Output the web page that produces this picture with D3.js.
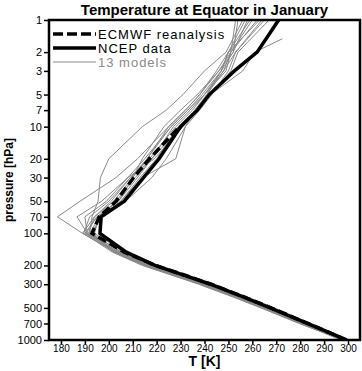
<!DOCTYPE html>
<html>
<head>
<meta charset="utf-8">
<script src="https://cdn.jsdelivr.net/npm/d3@7"></script>
<style>
  body { margin: 0; background: #fff; }
  svg { display: block; }
</style>
</head>
<body>
<script>
// Temperature profile at the equator, January

const levels = [1000, 850, 700, 500, 400, 300, 250, 200, 150, 100, 70, 50, 30, 20, 10, 7, 5, 3, 2, 1.5, 1];

const ncep = [299.5, 292, 283, 267.5, 257, 242.5, 232.3, 219.3, 207.3, 196.3, 196.8, 206.5, 214.5, 221, 230, 237, 242, 252.5, 262, null, 271];

// ECMWF reanalysis stops at 10 hPa
const ecmwf = [299.3, 292, 283.2, 267.8, 257.2, 242.8, 232.5, 219.5, 206.5, 193, 196, 203, 210.4, 217, 229.6, null, null, null, null, null, null];

// 13 models
const models = [
    [298.5, 290.5, 281.5, 265.5, 254.5, 239.5, 229.0, 216.0, 203.5, 189, 178.5, 188, 203, 212, 225, 232, 238, 246, 252, null, 258],
    [297.5, 290.0, 281.0, 265.0, 254.0, 239.0, 228.5, 215.5, 203.0, 191, 186.7, 197, 208, 215, 226, 233, 239, 247, 252, null, 254],
    [299.0, 291.5, 282.5, 266.5, 256.0, 241.0, 230.5, 217.5, 205.5, 192, 193, 195.5, 196.5, 200, 214, 224, 231, 240, 249, null, 256],
    [298.0, 290.0, 280.0, 264.0, 253.0, 238.0, 227.5, 214.5, 202.0, 192.5, 197, 205, 213, 220, 229, 236, 242.5, 256, 261, 272.5, null],
    [297.0, 289.5, 280.5, 264.5, 253.5, 238.5, 228.0, 215.0, 202.5, 190, 195, 204, 212, 218, 227, 234, 240, 249, 251, null, 262],
    [299.0, 291.0, 282.0, 266.0, 255.5, 240.5, 230.0, 217.0, 205.0, 193, 197, 207, 218, 224, 232, 238, 243, 250, 253, null, 265],
    [298.5, 291.0, 281.5, 265.5, 255.0, 240.0, 229.5, 216.5, 204.0, 191.5, 194, 202, 210, 216, 225, 232, 238, 245, 250, null, 257],
    [297.5, 289.5, 279.5, 263.5, 252.5, 237.5, 227.0, 214.0, 201.5, 189.5, 192, 200, 209, 216, 226, 233, 240, 248, 251, null, 260],
    [298.0, 290.5, 281.0, 265.0, 254.5, 239.5, 229.0, 216.0, 203.5, 192, 196, 205, 214, 228, 232, 236, 241, 247, 250, null, 263],
    [299.2, 291.8, 282.8, 267.0, 256.5, 241.5, 231.0, 218.5, 206.5, 194, 196, 203, 211, 218, 230, 237, 243, 251, 254, null, 267],
    [298.8, 291.0, 282.0, 266.0, 255.0, 240.0, 229.5, 216.5, 204.5, 190.5, 195, 204, 210, 214, 223, 230, 237, 246, 251, null, 253],
    [297.8, 290.0, 280.5, 264.5, 253.5, 238.5, 228.0, 215.0, 202.5, 189, 194, 201, 209, 217, 228, 235, 240, 247, 250, null, 259],
    [298.3, 290.5, 281.5, 265.5, 254.5, 239.5, 229.0, 216.0, 203.5, 191, 190, 199, 208, 219, 231, 236, 241, 248, 253, null, 264]
];

const xTicks = [180, 190, 200, 210, 220, 230, 240, 250, 260, 270, 280, 290, 300];
const yTicks = [1, 2, 3, 5, 7, 10, 20, 30, 50, 70, 100, 200, 300, 500, 700, 1000];

const legendLabels = ["ECMWF reanalysis", "NCEP data", "13 models"];

const width = 362;
const height = 371;
const frame = { left: 49, right: 360, top: 20, bottom: 340 };
const gray = "#8a8a8a";

const svg = d3.select("body")
    .append("svg")
    .attr("width", width)
    .attr("height", height);

const x = d3.scaleLinear().domain([175, 305]).range([frame.left, frame.right]);
const y = d3.scaleLog().domain([1, 1000]).range([frame.top, frame.bottom]);

// pair each profile with its levels and drop missing values
function profile(values) {
    return levels.map((p, i) => [values[i], p]).filter(d => d[0] !== null);
}

const line = d3.line()
    .x(d => x(d[0]))
    .y(d => y(d[1]));

svg.append("clipPath")
    .attr("id", "plot")
    .append("rect")
    .attr("x", frame.left)
    .attr("y", frame.top)
    .attr("width", frame.right - frame.left)
    .attr("height", frame.bottom - frame.top);

const plot = svg.append("g").attr("clip-path", "url(#plot)");

models.forEach(m => {
    plot.append("path")
        .attr("d", line(profile(m)))
        .attr("fill", "none")
        .attr("stroke", gray)
        .attr("stroke-width", 1);
});

plot.append("path")
    .attr("d", line(profile(ncep)))
    .attr("fill", "none")
    .attr("stroke", "#000")
    .attr("stroke-width", 3.5);

plot.append("path")
    .attr("d", line(profile(ecmwf)))
    .attr("fill", "none")
    .attr("stroke", "#000")
    .attr("stroke-width", 3.5)
    .attr("stroke-dasharray", "9,4");

// axes
const xAxis = svg.append("g")
    .attr("transform", `translate(0,${frame.bottom})`)
    .call(d3.axisBottom(x).tickValues(xTicks).tickSize(4).tickSizeOuter(0).tickPadding(1));

const yAxis = svg.append("g")
    .attr("transform", `translate(${frame.left},0)`)
    .call(d3.axisLeft(y).tickValues(yTicks).tickFormat(d3.format("d")).tickSize(5).tickSizeOuter(0).tickPadding(2));

[xAxis, yAxis].forEach(a => {
    a.select(".domain").remove();
    a.selectAll(".tick line").attr("stroke", "#000").attr("stroke-width", 1.5);
    a.selectAll(".tick text")
        .attr("fill", "#000")
        .style("font-family", "Liberation Sans");
});
xAxis.selectAll(".tick text").style("font-size", "10px");
yAxis.selectAll(".tick text").style("font-size", "11px");

// frame
svg.append("rect")
    .attr("x", frame.left)
    .attr("y", frame.top)
    .attr("width", frame.right - frame.left)
    .attr("height", frame.bottom - frame.top)
    .attr("fill", "none")
    .attr("stroke", "#000")
    .attr("stroke-width", 2.5);

// legend
const legend = svg.append("g").attr("transform", "translate(53,34)");
const legendStyles = [
    { color: "#000", w: 3.5, dash: "10,4" },
    { color: "#000", w: 3.5, dash: null },
    { color: gray, w: 1, dash: null }
];

legendLabels.forEach((label, i) => {
    const g = legend.append("g").attr("transform", `translate(0,${i * 14})`);
    g.append("line")
        .attr("x1", 0)
        .attr("x2", 43)
        .attr("stroke", legendStyles[i].color)
        .attr("stroke-width", legendStyles[i].w)
        .attr("stroke-dasharray", legendStyles[i].dash);
    g.append("text")
        .attr("x", 45)
        .attr("y", 5)
        .attr("fill", i === 2 ? gray : "#000")
        .style("font-family", "Liberation Sans")
        .style("font-size", "13px")
        .style("letter-spacing", "1px")
        .text(label);
});

// titles
svg.append("text")
    .attr("x", (frame.left + frame.right) / 2)
    .attr("y", 15)
    .attr("text-anchor", "middle")
    .style("font-family", "Liberation Sans")
    .style("font-weight", "bold")
    .style("font-size", "15px")
    .text("Temperature at Equator in January");

svg.append("text")
    .attr("x", (frame.left + frame.right) / 2)
    .attr("y", 366)
    .attr("text-anchor", "middle")
    .style("font-family", "Liberation Sans")
    .style("font-weight", "bold")
    .style("font-size", "14px")
    .text("T [K]");

svg.append("text")
    .attr("transform", `translate(13,${(frame.top + frame.bottom) / 2}) rotate(-90)`)
    .attr("text-anchor", "middle")
    .style("font-family", "Liberation Sans")
    .style("font-weight", "bold")
    .style("font-size", "12px")
    .text("pressure [hPa]");
</script>
</body>
</html>
